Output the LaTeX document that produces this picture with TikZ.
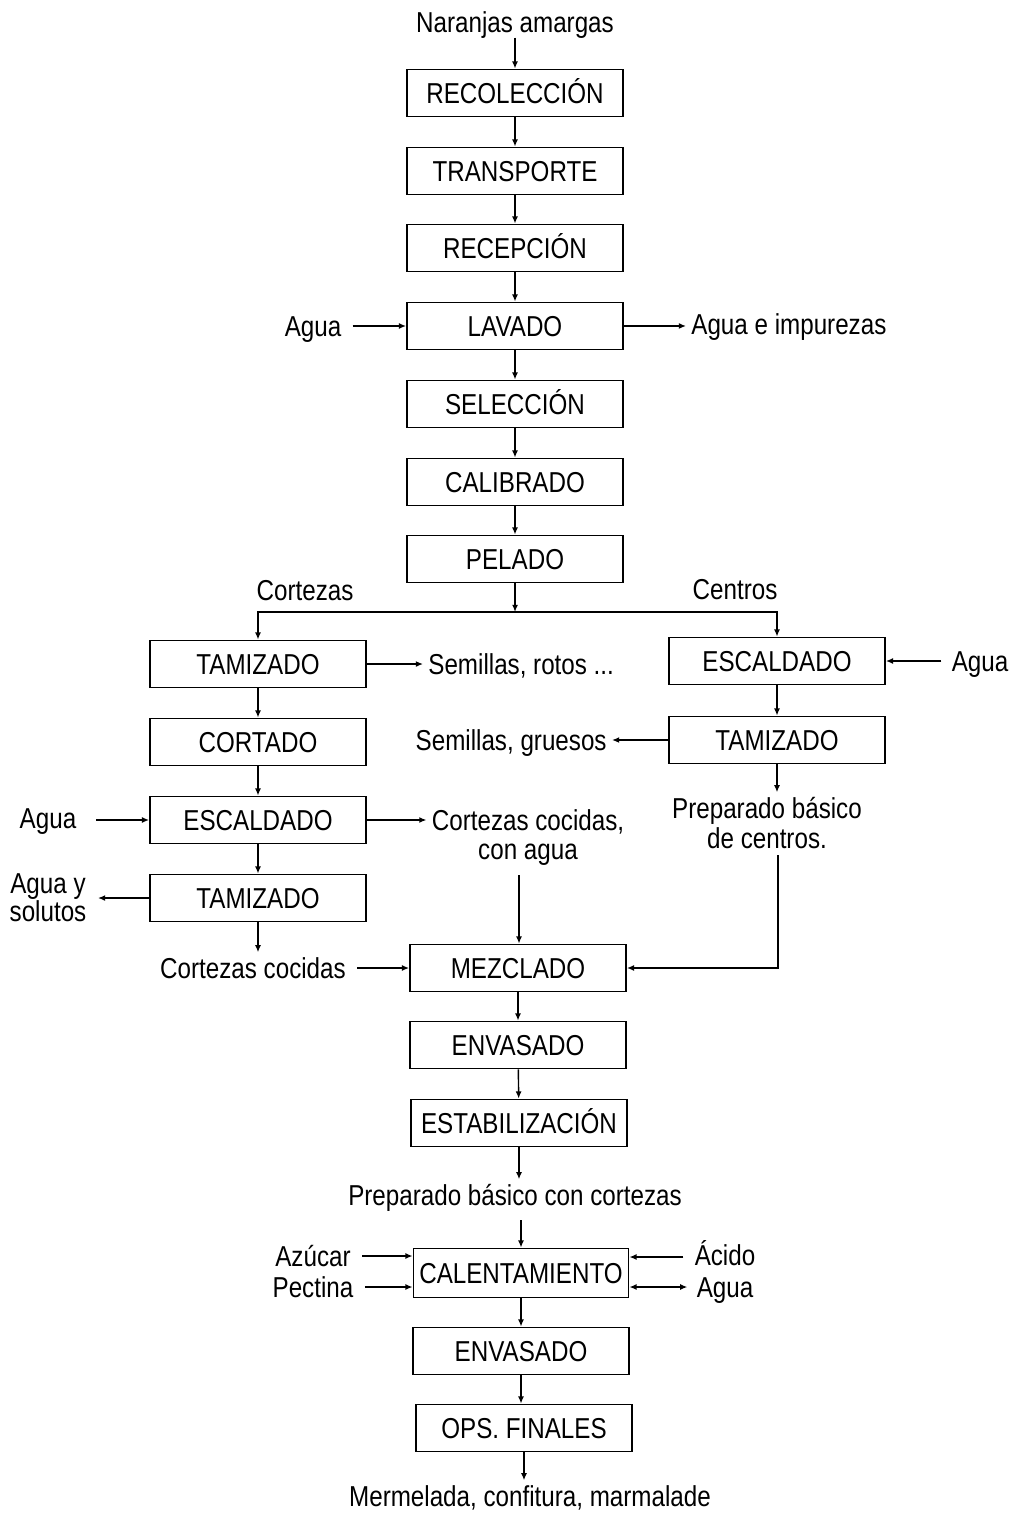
\documentclass[tikz,border=0pt]{standalone}
\usepackage{fontspec}
\setmainfont{Liberation Sans}[FakeStretch=0.84]
\usetikzlibrary{arrows.meta,calc}
\begin{document}
\begin{tikzpicture}[x=0.5pt,y=-0.5pt,
  font=\fontsize{14.4}{15}\selectfont,
  box/.style={draw,line width=0.9pt,minimum width=108pt,minimum height=23.5pt,inner sep=0pt,text height=10.3pt,text depth=0pt},
  txt/.style={inner sep=2.5pt,text height=10.3pt,text depth=0pt},
  arr/.style={-{Latex[length=3.6pt,width=3pt]},line width=0.7pt},
  darr/.style={{Latex[length=3.6pt,width=3pt]}-{Latex[length=3.6pt,width=3pt]},line width=0.7pt}]
\useasboundingbox (0,0) rectangle (1013,1513);
% main column
\node[txt] (nar) at (515,22) {Naranjas amargas};
\node[box] (rec) at (515,93) {RECOLECCIÓN};
\node[box] (tra) at (515,171) {TRANSPORTE};
\node[box] (rcp) at (515,248) {RECEPCIÓN};
\node[box] (lav) at (515,326) {LAVADO};
\node[box] (sel) at (515,404) {SELECCIÓN};
\node[box] (cal) at (515,482) {CALIBRADO};
\node[box] (pel) at (515,559) {PELADO};
\node[txt] (aguaL) at (313,326) {Agua};
\node[txt,anchor=west] (agI) at (686,324) {Agua e impurezas};
\draw[arr] (nar.south) -- (rec.north);
\draw[arr] (rec) -- (tra);
\draw[arr] (tra) -- (rcp);
\draw[arr] (rcp) -- (lav);
\draw[arr] (lav) -- (sel);
\draw[arr] (sel) -- (cal);
\draw[arr] (cal) -- (pel);
\draw[arr] ($(aguaL.east)+(6,0)$) -- (lav.west);
\draw[arr] (lav.east) -- (lav.east -| agI.west);
% branch
\coordinate (j) at (515,612);
\node[txt] (cort) at (305,590) {Cortezas};
\node[txt] (cent) at (735,589) {Centros};
\node[box] (tam1) at (258,664) {TAMIZADO};
\node[box] (cor) at (258,742) {CORTADO};
\node[box] (esc1) at (258,820) {ESCALDADO};
\node[box] (tam3) at (258,898) {TAMIZADO};
\node[box] (esc2) at (777,661) {ESCALDADO};
\node[box] (tam2) at (777,740) {TAMIZADO};
\draw[arr] (pel.south) -- (j);
\draw[arr] (j) -| (tam1.north);
\draw[arr] (j) -| (esc2.north);
% left side texts
\node[txt,anchor=west] (sem1) at (423,664) {Semillas, rotos ...};
\draw[arr] (tam1.east) -- (sem1.west);
\draw[arr] (tam1) -- (cor);
\draw[arr] (cor) -- (esc1);
\draw[arr] (esc1) -- (tam3);
\node[txt] (aguaE) at (48,818) {Agua};
\coordinate (aguaEe) at (96,820);
\draw[arr] (aguaEe) -- (esc1.west);
\node[txt] (cc1) at (528,820) {Cortezas cocidas,};
\node[txt] (cc2) at (528,849) {con agua};
\draw[arr] (esc1.east) -- (cc1.west);
\node[txt] (ays1) at (48,883) {Agua y};
\node[txt] (ays2) at (48,911) {solutos};
\coordinate (aysE) at (98,898);
\draw[arr] (tam3.west) -- (aysE);
\node[txt] (ccoc) at (253,968) {Cortezas cocidas};
\draw[arr] (tam3.south) -- (tam3.south |- ccoc.north);
% right side texts
\node[txt] (aguaR) at (980,661) {Agua};
\draw[arr] ($(aguaR.west)+(-5,0)$) -- (esc2.east);
\draw[arr] (esc2) -- (tam2);
\node[txt,anchor=east] (sem2) at (612,740) {Semillas, gruesos};
\draw[arr] (tam2.west) -- (sem2.east);
\node[txt] (prep1) at (767,808) {Preparado básico};
\node[txt] (prep2) at (767,838) {de centros.};
\draw[arr] (tam2.south) -- (tam2.south |- prep1.north);
% mixing
\node[box] (mez) at (518,968) {MEZCLADO};
\node[box] (env1) at (518,1045) {ENVASADO};
\node[box] (est) at (519,1123) {ESTABILIZACIÓN};
\coordinate (cw) at (519,875);
\coordinate (pr) at (778,855);
\draw[arr] (cw) -- (cw |- mez.north);
\draw[arr] (pr) |- (mez.east);
\draw[arr] ($(ccoc.east)+(6,0)$) -- (mez.west);
\draw[arr] (mez) -- (env1);
\draw[arr] (env1) -- (est);
\node[txt] (pbc) at (515,1195) {Preparado básico con cortezas};
\draw[arr] (est.south) -- (est.south |- pbc.north);
% final
\node[box,minimum width=107.5pt,minimum height=24.5pt] (calt) at (521,1273) {CALENTAMIENTO};
\node[box] (env2) at (521,1351) {ENVASADO};
\node[box] (ops) at (524,1428) {OPS. FINALES};
\coordinate (ptop) at (521,1220);
\draw[arr] (ptop) -- (calt.north);
\node[txt] (azu) at (313,1256) {Azúcar};
\node[txt] (pec) at (313,1287) {Pectina};
\node[txt] (aci) at (725,1255) {Ácido};
\node[txt] (agc) at (725,1287) {Agua};
\coordinate (y1) at (0,1257);
\coordinate (y2) at (0,1287);
\draw[arr] ($(azu.east)+(6,0)$) -- (azu.east -| calt.west);
\draw[arr] ($(pec.east)+(6,0)$) -- (pec.east -| calt.west);
\draw[arr] ($(aci.west)+(-6,2)$) -- (calt.east |- y1);
\draw[darr] (calt.east |- y2) -- ($(agc.west)+(-4,0)$);
\draw[arr] (calt) -- (env2);
\draw[arr] (env2.south) -- (env2.south |- ops.north);
\node[txt] (mer) at (530,1496) {Mermelada, confitura, marmalade};
\draw[arr] (ops.south) -- (ops.south |- mer.north);
\end{tikzpicture}
\end{document}
